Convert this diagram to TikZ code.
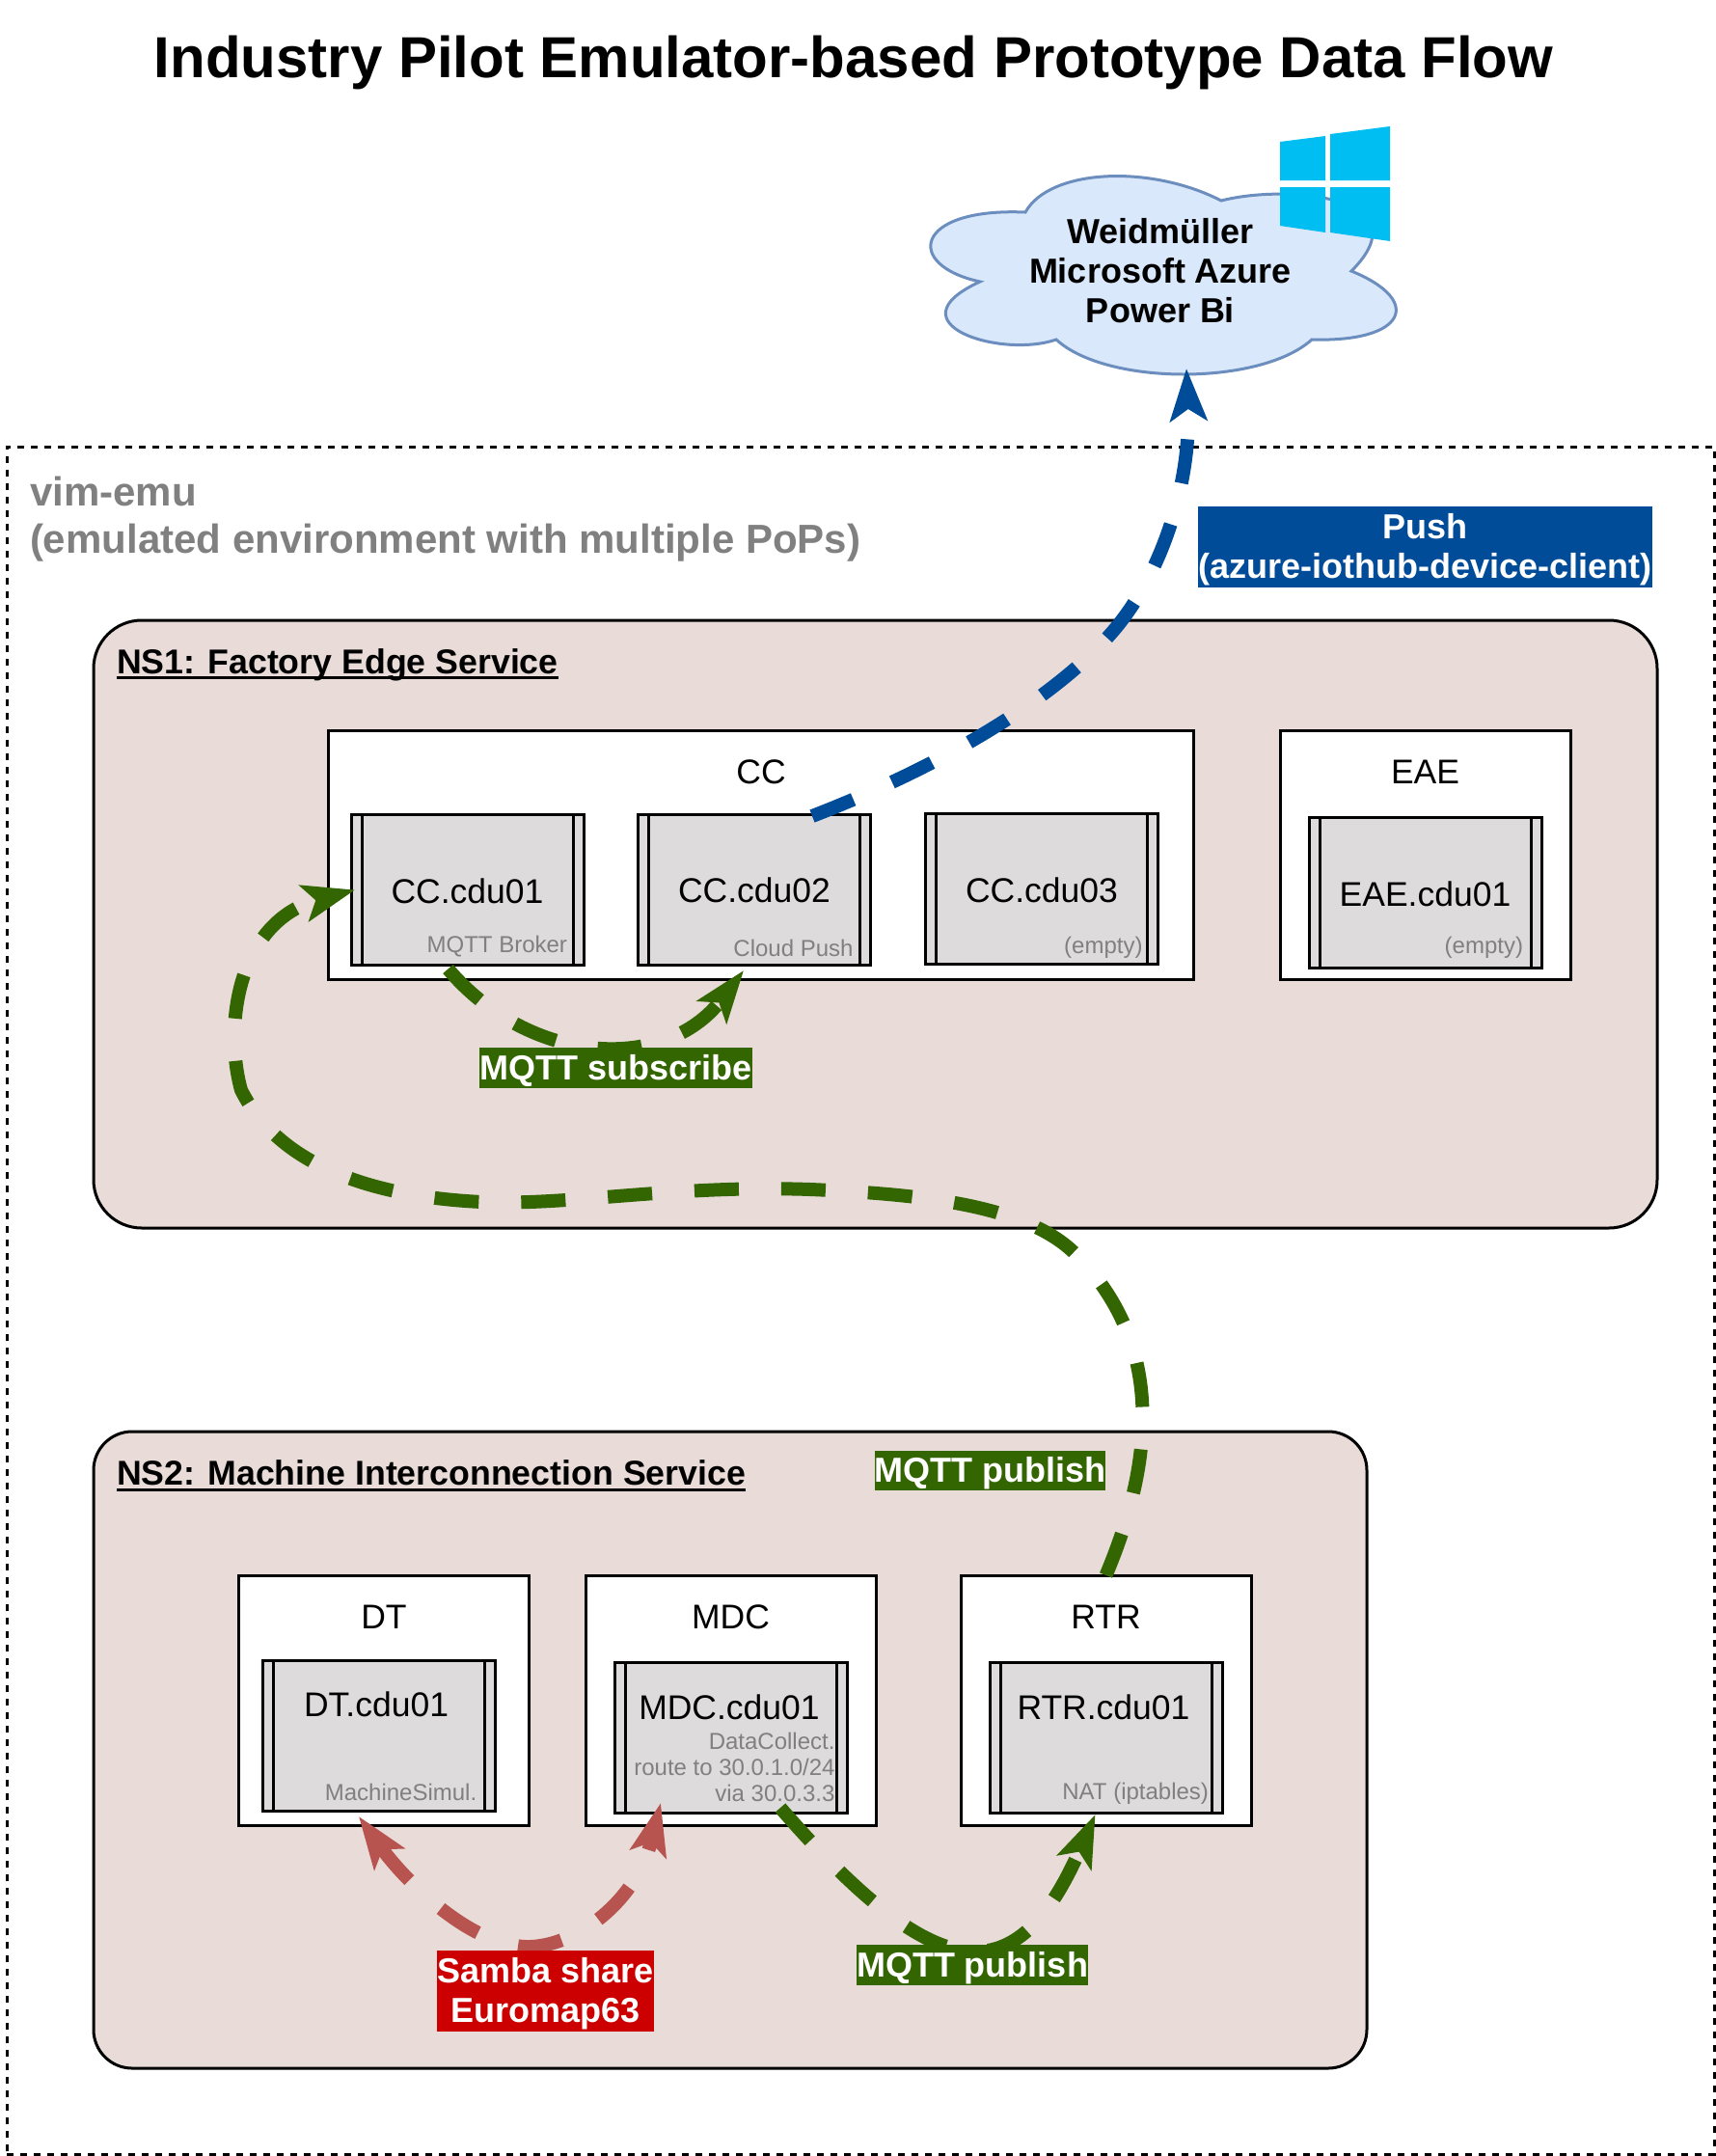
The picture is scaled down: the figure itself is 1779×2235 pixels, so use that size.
\documentclass[tikz,border=0pt]{standalone}
\usepackage{fontspec}
\setmainfont{Liberation Sans}
\usetikzlibrary{arrows.meta, positioning}
\definecolor{nsfill}{HTML}{E8DBD8}
\definecolor{cdufill}{HTML}{DDDBDC}
\definecolor{cloudfill}{HTML}{DAE8FC}
\definecolor{clouddraw}{HTML}{6C8EBF}
\definecolor{winblue}{HTML}{00BEF2}
\definecolor{pushblue}{HTML}{004C99}
\definecolor{mqttgreen}{HTML}{336600}
\definecolor{sambared}{HTML}{CC0000}
\definecolor{sambaline}{HTML}{B85450}
\newcommand{\thickul}[1]{\setbox0\hbox{#1}\rlap{\raisebox{-6pt}{\rule{\wd0}{3pt}}}\box0}
\newcommand{\lowline}[1]{\raisebox{-3pt}[\height][\depth]{#1}}

\begin{document}
\begin{tikzpicture}[
    x=1pt, y=-1pt,
    every node/.style={outer sep=0pt, inner sep=0pt},
    nsbox/.style={rectangle, draw=black, line width=3pt, fill=nsfill, rounded corners=#1},
    vnf/.style={rectangle, draw=black, line width=3pt, fill=white},
    cdubox/.style={rectangle, draw=black, line width=3pt, fill=cdufill, minimum width=241pt, minimum height=156pt,
        path picture={\draw[line width=3pt] ([xshift=11pt]path picture bounding box.north west) -- ([xshift=11pt]path picture bounding box.south west)
            ([xshift=-11pt]path picture bounding box.north east) -- ([xshift=-11pt]path picture bounding box.south east);}},
    cduname/.style={font=\fontsize{35.5}{41}\selectfont},
    cdunote/.style={font=\fontsize{24}{27}\selectfont, text=gray, align=right, anchor=east},
    nslabel/.style={font=\fontsize{35.7}{43}\selectfont\bfseries, anchor=west},
    flowlabel/.style={font=\fontsize{36}{41}\selectfont\bfseries, text=white, align=center},
    flow/.style={line width=14pt, dash pattern=on 46pt off 44pt, -{Stealth[length=54pt, width=38pt, inset=12pt]}},
    flowboth/.style={line width=14pt, dash pattern=on 46pt off 44pt, {Stealth[length=54pt, width=38pt, inset=12pt]}-{Stealth[length=54pt, width=38pt, inset=12pt]}}
]
\useasboundingbox (0,0) rectangle (1779,2235);

\node[font=\fontsize{60}{72}\selectfont\bfseries] (title) at (885,65) {Industry Pilot Emulator-based Prototype Data Flow};

% emulated environment
\node[rectangle, draw=black, line width=3pt, dash pattern=on 7pt off 7pt, minimum width=1770pt, minimum height=1770pt] (vimemu) at (892,1348) {};
\node[nslabel, font=\fontsize{42}{49}\selectfont\bfseries, text=gray, align=left] (vimlabel) at (31,538) {vim-emu\\(emulated environment with multiple PoPs)};

% cloud
\draw[line width=3pt, draw=clouddraw, fill=cloudfill] (1063,220) .. controls (1088,175) and (1192,170) .. (1266,208)
    .. controls (1337,190) and (1477,205) .. (1401,281)
    .. controls (1477,312) and (1457,355) .. (1360,352)
    .. controls (1307,400) and (1147,400) .. (1095,352)
    .. controls (1037,372) and (922,335) .. (1016,292)
    .. controls (937,275) and (947,215) .. cycle;
\node[font=\fontsize{36}{41}\selectfont\bfseries, align=center] (cloud) at (1203,281) {Weidmüller\\Microsoft Azure\\Power Bi};
\coordinate (cloudtip) at (1230,382);
\fill[winblue] (1327,147) -- (1374,141) -- (1374,187) -- (1327,187) -- cycle;
\fill[winblue] (1379,139) -- (1441,131) -- (1441,187) -- (1379,187) -- cycle;
\fill[winblue] (1327,194) -- (1374,194) -- (1374,241) -- (1327,234) -- cycle;
\fill[winblue] (1379,194) -- (1441,194) -- (1441,250) -- (1379,241) -- cycle;

% NS1
\node[nsbox=50pt, minimum width=1621pt, minimum height=630pt] (ns1) at (907.5,958) {};
\node[nslabel] (ns1label) at (121,689) {\thickul{NS1: Factory Edge Service}};
\node[vnf, minimum width=897pt, minimum height=258pt] (cc) at (789,886) {};
\node[vnf, minimum width=301pt, minimum height=258pt] (eae) at (1477.5,886) {};
\node[cduname] (cclabel) at ([yshift=-43pt]cc.north) {CC};
\node[cduname] (eaelabel) at ([yshift=-43pt]eae.north) {EAE};
\node[cdubox] (cdu01) at (484.5,922.5) {};
\node[cdubox] (cdu02) at (782,922) {};
\node[cdubox] (cdu03) at (1080,921) {};
\node[cdubox] (eaecdu) at (1477.5,925.5) {};
\node[cduname] (name01) at ([yshift=-1pt]cdu01) {CC.cdu01};
\node[cduname] (name02) at ([yshift=-1pt]cdu02) {CC.cdu02};
\node[cduname] (name03) at ([yshift=-2pt]cdu03) {CC.cdu03};
\node[cduname] (nameeae) at ([yshift=-1pt]eaecdu) {EAE.cdu01};
\node[cdunote] (note01) at ([xshift=-17pt,yshift=19pt]cdu01.south east) {MQTT Broker};
\node[cdunote] (note02) at ([xshift=-18pt,yshift=17pt]cdu02.south east) {Cloud Push};
\node[cdunote] (note03) at ([xshift=-16pt,yshift=17pt]cdu03.south east) {(empty)};
\node[cdunote] (noteeae) at ([xshift=-19pt,yshift=21pt]eaecdu.south east) {(empty)};

% NS2
\node[nsbox=40pt, minimum width=1320pt, minimum height=660pt] (ns2) at (757,1814) {};
\node[nslabel] (ns2label) at (121,1530) {\thickul{NS2: Machine Interconnection Service}};
\node[vnf, minimum width=301pt, minimum height=259pt] (dt) at (398,1762.5) {};
\node[vnf, minimum width=301pt, minimum height=259pt] (mdc) at (757.5,1762.5) {};
\node[vnf, minimum width=301pt, minimum height=259pt] (rtr) at (1146.5,1762.5) {};
\node[cduname] (dtlabel) at ([yshift=-43pt]dt.north) {DT};
\node[cduname] (mdclabel) at ([yshift=-43pt]mdc.north) {MDC};
\node[cduname] (rtrlabel) at ([yshift=-43pt]rtr.north) {RTR};
\node[cdubox] (dtcdu) at (392.75,1799.5) {};
\node[cdubox] (mdccdu) at (758,1801) {};
\node[cdubox] (rtrcdu) at (1146.5,1801) {};
\node[cduname] (namedt) at (390,1767) {DT.cdu01};
\node[cduname] (namemdc) at (756,1770) {MDC.cdu01};
\node[cduname] (namertr) at (1144,1770) {RTR.cdu01};
\node[cdunote] (notedt) at ([xshift=-19pt,yshift=20pt]dtcdu.south east) {MachineSimul.};
\node[cdunote] (notemdc) at ([xshift=-13pt,yshift=47pt]mdccdu.south east) {DataCollect.\\route to 30.0.1.0/24\\via 30.0.3.3};
\node[cdunote] (notertr) at ([xshift=-14pt,yshift=20pt]rtrcdu.south east) {NAT (iptables)};

% data flows
\draw[flow, draw=pushblue] ([xshift=60pt,yshift=-2pt]cdu02.north) .. controls (1000,785) and (1105,712) .. (1155,653)
    .. controls (1205,594) and (1235,500) .. (cloudtip);
\draw[flow, draw=mqttgreen] ([xshift=-20pt,yshift=-4pt]cdu01.south) .. controls (550,1105) and (690,1112) .. ([xshift=-11pt,yshift=-6pt]cdu02.south);
\draw[flow, draw=mqttgreen] (rtr.north) .. controls (1190,1530) and (1215,1400) .. (1115,1300)
    .. controls (1065,1250) and (960,1238) .. (840,1233)
    .. controls (700,1228) and (590,1250) .. (500,1246)
    .. controls (390,1241) and (290,1210) .. (250,1130)
    .. controls (232,1065) and (245,955) .. ([xshift=4pt]cdu01.west);
\draw[flow, draw=mqttgreen] ([xshift=51pt,yshift=5pt]mdccdu.south) .. controls (975,2065) and (1055,2065) .. ([xshift=-11pt,yshift=-2pt]rtrcdu.south);
\draw[flowboth, draw=sambaline] ([xshift=-26pt,yshift=9pt]dt.south) .. controls (420,1950) and (490,2020) .. (550,2018)
    .. controls (600,2016) and (660,1970) .. ([xshift=-73pt,yshift=10pt]mdccdu.south);

% labels
\node[flowlabel, fill=pushblue, minimum width=471pt, minimum height=84pt] (pushlabel) at (1477.5,567) {\lowline{Push}\\\lowline{(azure-iothub-device-client)}};
\node[flowlabel, fill=mqttgreen, minimum width=281pt, minimum height=42pt] (sublabel) at (638.5,1107) {\lowline{MQTT subscribe}};
\node[flowlabel, fill=mqttgreen, minimum width=239pt, minimum height=41pt] (publabel) at (1026.5,1524.5) {\lowline{MQTT publish}};
\node[flowlabel, fill=mqttgreen, minimum width=240pt, minimum height=42pt] (natlabel) at (1008,2037) {\lowline{MQTT publish}};
\node[flowlabel, fill=sambared, minimum width=225pt, minimum height=84pt] (sambalabel) at (565.5,2064) {\lowline{Samba share}\\\lowline{Euromap63}};
\end{tikzpicture}
\end{document}
